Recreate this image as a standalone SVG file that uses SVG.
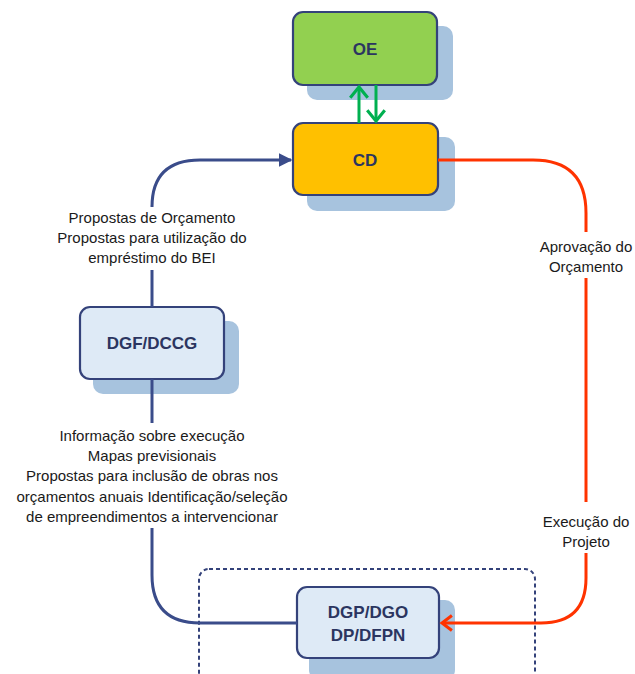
<svg xmlns="http://www.w3.org/2000/svg" width="635" height="674" viewBox="0 0 635 674">
<defs>
<style>
.shadow{fill:#A7C3DE;}
.box{stroke:#34427A;stroke-width:2.2;}
.lbl{font-family:"Liberation Sans",Arial,sans-serif;font-weight:bold;font-size:17px;fill:#2B3560;text-anchor:middle;}
.txt{font-family:"Liberation Sans",Arial,sans-serif;font-size:15px;fill:#1A1A1A;text-anchor:middle;}
.blue{fill:none;stroke:#3A4C8A;stroke-width:3;}
.red{fill:none;stroke:#FF3300;stroke-width:3;}
.green{fill:none;stroke:#00B050;stroke-width:3;}
</style>
<marker id="triBlue" viewBox="0 0 10 10" refX="9" refY="5" markerWidth="4.5" markerHeight="5" orient="auto" markerUnits="strokeWidth">
<path d="M0,0 L10,5 L0,10 Z" fill="#3A4C8A"/>
</marker>
<marker id="chevRed" viewBox="0 0 10 10" refX="8.5" refY="5" markerWidth="6" markerHeight="6" orient="auto" markerUnits="strokeWidth">
<path d="M3,0.8 L8.5,5 L3,9.2" fill="none" stroke="#FF3300" stroke-width="1.7"/>
</marker>
<marker id="chevGreen" viewBox="0 0 10 10" refX="8.5" refY="5" markerWidth="6.5" markerHeight="6.5" orient="auto" markerUnits="strokeWidth">
<path d="M3,0.5 L8.5,5 L3,9.5" fill="none" stroke="#00B050" stroke-width="1.6"/>
</marker>
</defs>
<rect width="635" height="674" fill="#FFFFFF"/>

<g id="group-dgp">
<rect x="199" y="569" width="336" height="120" rx="10" fill="none" stroke="#34427A" stroke-width="2" stroke-dasharray="4,3"/>
</g>

<g id="node-oe">
<rect class="shadow" x="307" y="26" width="146" height="74" rx="10"/>
<rect class="box" x="293" y="12" width="144" height="73" rx="10" fill="#92D050"/>
<text class="lbl" x="365" y="55">OE</text>
</g>

<g id="node-cd">
<rect class="shadow" x="307" y="137" width="148" height="74" rx="10"/>
<rect class="box" x="293" y="123" width="145" height="72" rx="10" fill="#FFC000"/>
<text class="lbl" x="365" y="166">CD</text>
</g>

<g id="node-dgf">
<rect class="shadow" x="93" y="321" width="146" height="73" rx="10"/>
<rect class="box" x="80" y="307" width="144" height="72" rx="10" fill="#DEEAF6"/>
<text class="lbl" x="152" y="349">DGF/DCCG</text>
</g>

<g id="node-dgp">
<rect class="shadow" x="309" y="600" width="146" height="80" rx="10"/>
<rect class="box" x="297" y="587" width="142" height="71" rx="10" fill="#DEEAF6"/>
<text class="lbl" x="368" y="618">DGP/DGO</text>
<text class="lbl" x="368" y="641">DP/DFPN</text>
</g>

<g id="connectors">
<path class="green" d="M359,123 L359,87" marker-end="url(#chevGreen)"/>
<path class="green" d="M376,85 L376,121" marker-end="url(#chevGreen)"/>
<path class="blue" d="M152,205 L152,207 Q152,160 200,160 L291,160" marker-end="url(#triBlue)"/>
<path class="blue" d="M152,270 L152,307"/>
<path class="blue" d="M152,379 L152,423"/>
<path class="blue" d="M152,528 L152,575 Q152,623 200,623 L297,623"/>
<path class="red" d="M438,160 L533,160 Q586,160 586,213 L586,232"/>
<path class="red" d="M586,278 L586,502"/>
<path class="red" d="M586,553 L586,578 Q586,623 541,623 L442,623" marker-end="url(#chevRed)"/>
</g>

<g id="labels">
<text class="txt" x="152" y="223">Propostas de Orçamento</text>
<text class="txt" x="152" y="243">Propostas para utilização do</text>
<text class="txt" x="152" y="263">empréstimo do BEI</text>
<text class="txt" x="152" y="441">Informação sobre execução</text>
<text class="txt" x="152" y="461">Mapas previsionais</text>
<text class="txt" x="152" y="481">Propostas para inclusão de obras nos</text>
<text class="txt" x="152" y="502">orçamentos anuais Identificação/seleção</text>
<text class="txt" x="152" y="522">de empreendimentos a intervencionar</text>
<text class="txt" x="586" y="252">Aprovação do</text>
<text class="txt" x="586" y="272">Orçamento</text>
<text class="txt" x="586" y="527">Execução do</text>
<text class="txt" x="586" y="547">Projeto</text>
</g>
</svg>
